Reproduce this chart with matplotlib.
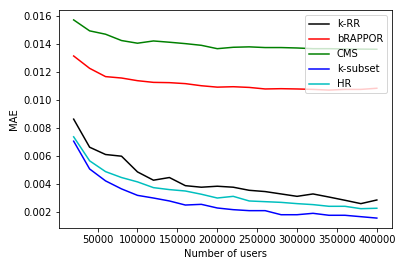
import matplotlib
matplotlib.use("Agg")
import matplotlib.pyplot as plt

users = list(range(20000, 400001, 20000))

k_rr = [0.00864, 0.00664, 0.00612, 0.00600, 0.00488, 0.00429, 0.00448, 0.00390, 0.00379, 0.00386,
        0.00379, 0.00357, 0.00348, 0.00331, 0.00314, 0.00331, 0.00309, 0.00286, 0.00262, 0.00288]
brappor = [0.01314, 0.01226, 0.01167, 0.01157, 0.01138, 0.01126, 0.01124, 0.01117, 0.01102, 0.01092,
           0.01095, 0.01090, 0.01079, 0.01081, 0.01079, 0.01076, 0.01071, 0.01076, 0.01076, 0.01084]
cms = [0.01571, 0.01493, 0.01469, 0.01424, 0.01405, 0.01421, 0.01412, 0.01402, 0.01390, 0.01366,
       0.01376, 0.01379, 0.01374, 0.01374, 0.01371, 0.01366, 0.01366, 0.01364, 0.01363, 0.01362]
k_subset = [0.00707, 0.00509, 0.00424, 0.00367, 0.00321, 0.00302, 0.00281, 0.00252, 0.00257, 0.00231,
            0.00219, 0.00212, 0.00212, 0.00183, 0.00183, 0.00193, 0.00179, 0.00179, 0.00169, 0.00159]
hr = [0.00738, 0.00567, 0.00490, 0.00448, 0.00417, 0.00376, 0.00362, 0.00352, 0.00329, 0.00302,
      0.00314, 0.00281, 0.00276, 0.00271, 0.00262, 0.00255, 0.00243, 0.00243, 0.00226, 0.00229]

fig, ax = plt.subplots(figsize=(402 / 72, 266 / 72), dpi=72)
ax.plot(users, k_rr, color="k", label="k-RR")
ax.plot(users, brappor, color="r", label="bRAPPOR")
ax.plot(users, cms, color="g", label="CMS")
ax.plot(users, k_subset, color="b", label="k-subset")
ax.plot(users, hr, color="c", label="HR")

ax.set_xlabel("Number of users")
ax.set_ylabel("MAE")
ax.legend(loc="upper right")

fig.subplots_adjust(left=58.5 / 402, right=392 / 402, top=1 - 10 / 266, bottom=1 - 228 / 266)
fig.savefig("out.png", dpi=72)
